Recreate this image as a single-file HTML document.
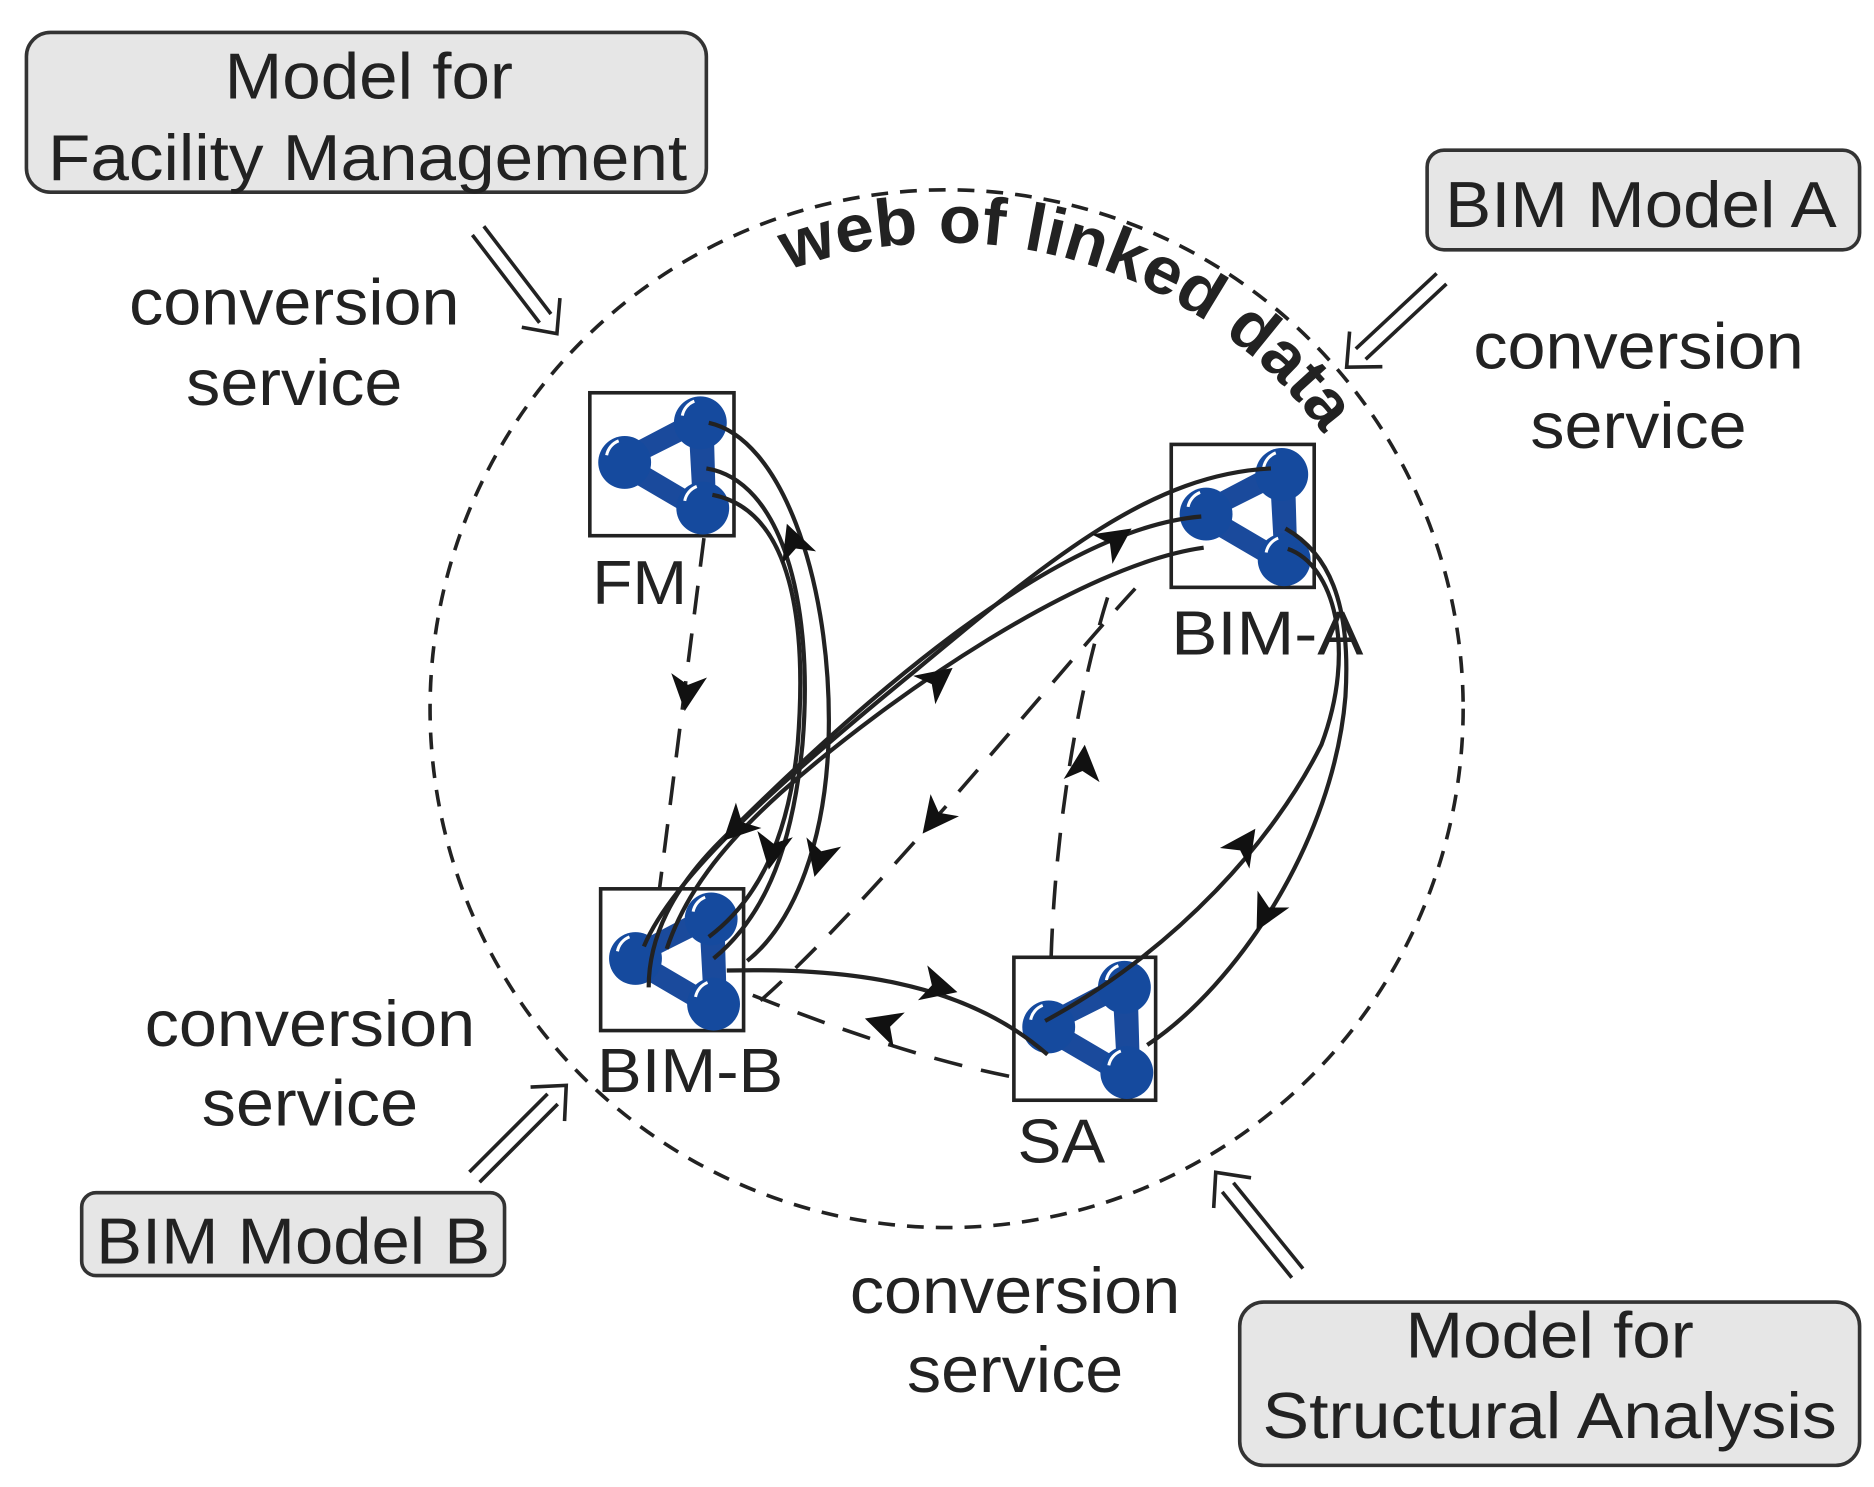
<!DOCTYPE html>
<html><head><meta charset="utf-8"><style>html,body{margin:0;padding:0;background:#fff}svg{display:block}</style></head>
<body>
<svg width="1874" height="1487" viewBox="0 0 1560 1238" preserveAspectRatio="none" xmlns="http://www.w3.org/2000/svg" font-family="Liberation Sans, sans-serif" fill="#222">
<defs>
<g id="icon">
  <path d="M29,58 L92,25 L94,96 Z" fill="none" stroke="#1a4a9c" stroke-width="22" stroke-linejoin="round"/>
  <path d="M48,58 L80,42 L82,78 Z" fill="#fff" stroke="#fff" stroke-width="6" stroke-linejoin="round"/>
  <circle cx="29" cy="58" r="22" fill="#154a9e"/>
  <circle cx="92" cy="25" r="22" fill="#154a9e"/>
  <circle cx="94" cy="96" r="22" fill="#154a9e"/>
  <path d="M14,52 A16,16 0 0 1 24,40" stroke="#fff" stroke-width="2.5" fill="none"/>
  <path d="M77,19 A16,16 0 0 1 87,7" stroke="#fff" stroke-width="2.5" fill="none"/>
  <path d="M79,90 A16,16 0 0 1 89,78" stroke="#fff" stroke-width="2.5" fill="none"/>
</g>
<g id="ah"><polygon points="0,0 -30,-15 -22,0 -30,15" fill="#111"/></g>
<g id="dbl" fill="none" stroke="#222" stroke-width="3">
  <line x1="0" y1="-6" x2="92" y2="-6"/><line x1="0" y1="6" x2="92" y2="6"/>
  <polyline points="86,-20 108,0 86,20"/>
</g>
<path id="arcp" d="M594,254 A388,388 0 0 1 1152.6,457.3"/>
</defs>

<g stroke="#333" stroke-width="3" fill="#e6e6e6">
<rect x="22" y="27" width="566" height="133" rx="20"/>
<rect x="1188" y="125" width="360" height="83" rx="14"/>
<rect x="68" y="993" width="352" height="69" rx="12"/>
<rect x="1032" y="1084" width="516" height="136" rx="20"/>
</g>
<g font-size="54" text-anchor="middle" fill="#222">
<text x="307" y="82" textLength="240" lengthAdjust="spacingAndGlyphs">Model for</text>
<text x="306" y="150" textLength="532" lengthAdjust="spacingAndGlyphs">Facility Management</text>
<text x="1366" y="189" textLength="326" lengthAdjust="spacingAndGlyphs">BIM Model A</text>
<text x="244" y="1052" textLength="328" lengthAdjust="spacingAndGlyphs">BIM Model B</text>
<text x="1290" y="1130" textLength="240" lengthAdjust="spacingAndGlyphs">Model for</text>
<text x="1290" y="1197" textLength="478" lengthAdjust="spacingAndGlyphs">Structural Analysis</text>
</g>
<g font-size="54" text-anchor="middle" fill="#222">
<text x="245" y="270" textLength="275" lengthAdjust="spacingAndGlyphs">conversion</text><text x="245" y="337" textLength="180" lengthAdjust="spacingAndGlyphs">service</text>
<text x="1364" y="307" textLength="275" lengthAdjust="spacingAndGlyphs">conversion</text><text x="1364" y="373" textLength="180" lengthAdjust="spacingAndGlyphs">service</text>
<text x="258" y="871" textLength="275" lengthAdjust="spacingAndGlyphs">conversion</text><text x="258" y="937" textLength="180" lengthAdjust="spacingAndGlyphs">service</text>
<text x="845" y="1093" textLength="275" lengthAdjust="spacingAndGlyphs">conversion</text><text x="845" y="1159" textLength="180" lengthAdjust="spacingAndGlyphs">service</text>
</g>

<ellipse cx="788" cy="590" rx="430" ry="432" fill="none" stroke="#222" stroke-width="3" stroke-dasharray="14,10"/>
<text font-size="56" font-weight="bold" fill="#222"><textPath href="#arcp" startOffset="68" textLength="500" lengthAdjust="spacingAndGlyphs">web of linked data</textPath></text>

<use href="#dbl" transform="translate(398,192) rotate(52.6)"/>
<use href="#dbl" transform="translate(1200,232) rotate(137)"/>
<use href="#dbl" transform="translate(395,980) rotate(-45)"/>
<use href="#dbl" transform="translate(1080,1060) rotate(-129)"/>

<g fill="#fff" stroke="#222" stroke-width="3">
<rect x="491" y="327" width="120" height="119"/>
<rect x="975" y="370" width="119" height="119"/>
<rect x="500" y="740" width="119" height="118"/>
<rect x="844" y="797" width="118" height="119"/>
</g>
<use href="#icon" transform="translate(491,327)"/>
<use href="#icon" transform="translate(975,370)"/>
<use href="#icon" transform="translate(500,740)"/>
<use href="#icon" transform="translate(844,797)"/>
<g font-size="52" fill="#222">
<text x="493" y="503" textLength="79" lengthAdjust="spacingAndGlyphs">FM</text>
<text x="975" y="545" textLength="160" lengthAdjust="spacingAndGlyphs">BIM-A</text>
<text x="497" y="909" textLength="155" lengthAdjust="spacingAndGlyphs">BIM-B</text>
<text x="847" y="968" textLength="73" lengthAdjust="spacingAndGlyphs">SA</text>
</g>

<g fill="none" stroke="#222" stroke-width="3.5">
<path d="M590,352 C650,365 690,480 690,600 C690,700 660,770 622,800"/>
<path d="M588,390 C650,400 678,500 668,620 C660,700 640,760 594,798"/>
<path d="M593,412 C660,425 672,520 664,620 C656,700 630,750 590,780"/>
<path d="M1058,390 C960,395 880,460 760,560 C650,650 560,730 536,788"/>
<path d="M1000,430 C880,440 720,580 600,700 C560,740 540,780 540,822"/>
<path d="M1002,456 C900,470 740,580 650,660 C600,705 570,745 555,790"/>
<path d="M605,808 C700,806 800,815 872,878"/>
<path d="M870,850 C980,790 1060,700 1100,620 C1130,540 1110,470 1072,457"/>
<path d="M955,870 C1030,820 1110,700 1120,580 C1125,500 1105,460 1070,440"/>
</g>
<g fill="none" stroke="#222" stroke-width="3" stroke-dasharray="24,16">
<path d="M586,448 L549,740"/>
<path d="M945,490 C880,560 720,760 625,840"/>
<path d="M875,797 C878,700 895,580 925,488"/>
<path d="M840,896 C760,880 680,850 620,826"/>
</g>
<use href="#ah" transform="translate(570,592) rotate(97)"/>
<use href="#ah" transform="translate(655,436) rotate(-110)"/>
<use href="#ah" transform="translate(640,724) rotate(100)"/>
<use href="#ah" transform="translate(678,730) rotate(105)"/>
<use href="#ah" transform="translate(942,440) rotate(-35)"/>
<use href="#ah" transform="translate(793,556) rotate(-38)"/>
<use href="#ah" transform="translate(602,700) rotate(135)"/>
<use href="#ah" transform="translate(768,694) rotate(128)"/>
<use href="#ah" transform="translate(903,620) rotate(-85)"/>
<use href="#ah" transform="translate(797,826) rotate(15)"/>
<use href="#ah" transform="translate(720,848) rotate(198)"/>
<use href="#ah" transform="translate(1045,690) rotate(-55)"/>
<use href="#ah" transform="translate(1046,775) rotate(118)"/>
</svg>
</body></html>
